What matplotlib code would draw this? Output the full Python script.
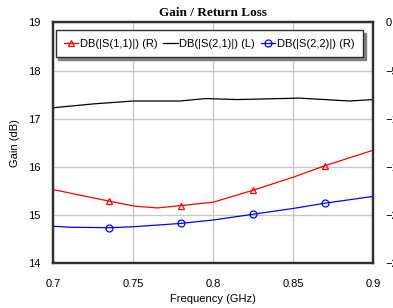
import numpy as np
import matplotlib
matplotlib.use("Agg")
import matplotlib.pyplot as plt

plt.rcParams['font.family'] = ['Liberation Sans', 'DejaVu Sans']

# S21 增益 (左轴, dB)
freq_s21 = [0.7, 0.725, 0.75, 0.779, 0.795, 0.815, 0.854, 0.885, 0.9]
gain_s21 = [17.23, 17.31, 17.37, 17.37, 17.42, 17.40, 17.43, 17.37, 17.40]

# S11 回波损耗 (右轴, dB)
freq_s11 = [0.7, 0.735, 0.75, 0.765, 0.78, 0.8, 0.825, 0.85, 0.87, 0.9]
rl_s11 = [-17.35, -18.55, -19.05, -19.25, -19.0, -18.65, -17.4, -16.05, -14.85, -13.25]
mark_s11 = [1, 4, 6, 8]

# S22 回波损耗 (右轴, dB)
freq_s22 = [0.7, 0.71, 0.735, 0.75, 0.78, 0.8, 0.825, 0.85, 0.87, 0.9]
rl_s22 = [-21.15, -21.25, -21.3, -21.2, -20.85, -20.5, -19.9, -19.3, -18.75, -18.05]
mark_s22 = [2, 4, 6, 8]

left_ticks = [14, 15, 16, 17, 18, 19]
right_ticks = [0, -5, -10, -15, -20, -25]
x_ticks = [0.7, 0.75, 0.8, 0.85, 0.9]
x_labels = ['0.7', '0.75', '0.8', '0.85', '0.9']

fig = plt.figure(figsize=(3.93, 3.08), dpi=100)
ax = fig.add_axes([0.136, 0.145, 0.814, 0.782])
ax2 = ax.twinx()

ax.set_xlim(0.7, 0.9)
ax.set_ylim(14, 19)
ax2.set_ylim(-25, 0)

ax.set_xticks(x_ticks)
ax.set_xticklabels(x_labels)
ax.set_yticks(left_ticks)
ax2.set_yticks(right_ticks)
ax.grid(True, color='#c8c8c8', linewidth=1.0)
ax.set_axisbelow(True)

ax.tick_params(length=0, pad=9, labelsize=8)
ax.tick_params(axis='x', pad=11)
ax2.tick_params(length=0, pad=9, labelsize=8)

for a in (ax, ax2):
    for s in a.spines.values():
        s.set_color('#303030')
        s.set_linewidth(1.6)

l1, = ax2.plot(freq_s11, rl_s11, color='red', lw=0.9, marker='^', ms=5,
               mfc='none', mec='red', mew=0.9, markevery=mark_s11,
               label='DB(|S(1,1)|) (R)')
l2, = ax.plot(freq_s21, gain_s21, color='black', lw=0.9,
              label='DB(|S(2,1)|) (L)')
l3, = ax2.plot(freq_s22, rl_s22, color='blue', lw=0.9, marker='o', ms=5,
               mfc='none', mec='blue', mew=0.9, markevery=mark_s22,
               label='DB(|S(2,2)|) (R)')

leg = ax2.legend(handles=[l1, l2, l3], loc='upper center', ncol=3,
                 bbox_to_anchor=(0.487, 0.968), fontsize=8, frameon=True,
                 fancybox=False, shadow={'color': '#808080', 'alpha': 1},
                 handlelength=1.3, handletextpad=0.15, columnspacing=0.5,
                 borderpad=0.75, borderaxespad=0)
leg.get_frame().set_edgecolor('#303030')
leg.get_frame().set_linewidth(1.0)

ax.set_title('Gain / Return Loss', family='Liberation Serif', fontweight='bold',
             fontsize=9.5, pad=5)
ax.set_xlabel('Frequency (GHz)', fontsize=8, labelpad=4)
ax.set_ylabel('Gain (dB)', fontsize=8, labelpad=6)

fig.savefig('out.png', dpi=100)
